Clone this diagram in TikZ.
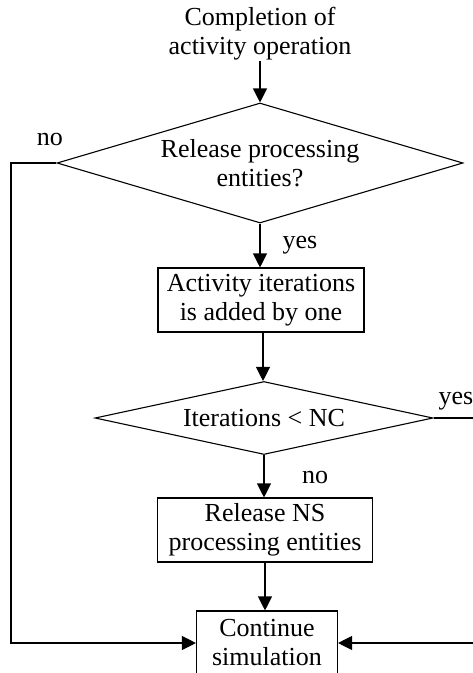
\documentclass[tikz,border=0pt]{standalone}
\usepackage{fontspec}
\setmainfont{Liberation Serif}
\usetikzlibrary{shapes.geometric,arrows.meta}
\begin{document}
\begin{tikzpicture}[x=1pt,y=-1pt,
  font=\fontsize{26}{29}\selectfont,
  line width=1.1pt,
  arr/.style={-{Triangle[length=14pt,width=14pt]}},
  dec/.style={draw, diamond, inner sep=0pt, align=center},
  proc/.style={draw, rectangle, inner sep=0pt, align=center, minimum height=64pt},
  lab/.style={anchor=base, inner sep=0pt}]
\useasboundingbox (0,0) rectangle (473,673);
\node[align=center, inner sep=0pt] (start) at (260,34) {Completion of\\activity operation};
\node[dec, minimum width=406pt, minimum height=120pt, aspect=3.38] (d1) at (260,163) {Release processing\\entities?};
\node[proc, minimum width=206pt] (b1) at (261,300) {Activity iterations\\is added by one};
\node[dec, minimum width=338pt, minimum height=73pt, aspect=4.63] (d2) at (264,418) {Iterations < NC};
\node[proc, minimum width=215pt] (b2) at (265,530) {Release NS\\processing entities};
\node[proc, minimum width=141pt] (c) at (267,643) {Continue\\simulation};
\coordinate (L) at (11,0);
\coordinate (R) at (480,0);
\draw[arr] (start.south) -- (start.south |- d1.north);
\draw[arr] (d1.south) -- (d1.south |- b1.north);
\draw[arr] (b1.south) ++(2,0) coordinate (b1s) -- (b1s |- d2.north);
\draw[arr] (d2.south) -- (d2.south |- b2.north);
\draw[arr] (b2.south) -- (b2.south |- c.north);
\draw[arr] (d1.west) -- (d1.west -| L) |- (c.west);
\draw[arr] (d2.east) -- (d2.east -| R) |- (c.east);
\node[lab] (no1) at (50,145) {no};
\node[lab] (yes1) at (300,248) {yes};
\node[lab] (yes2) at (456,404) {yes};
\node[lab] (no2) at (315,483) {no};
\end{tikzpicture}
\end{document}
